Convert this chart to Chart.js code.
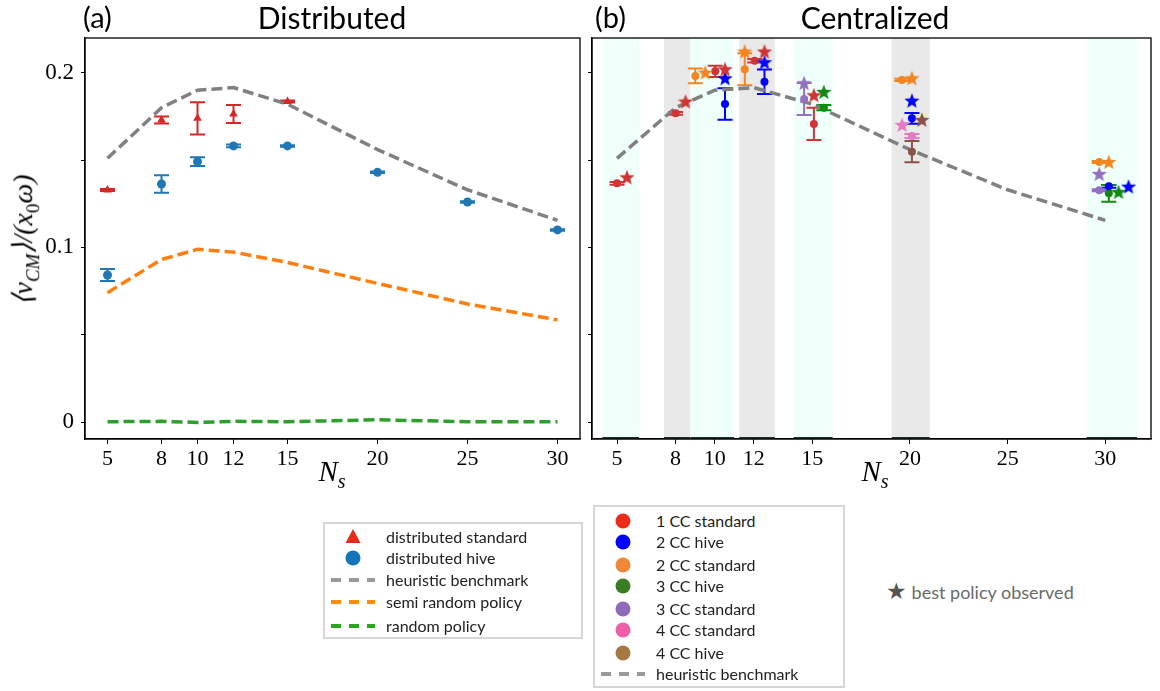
<!DOCTYPE html>
<html>
<head>
<meta charset="utf-8">
<script src="https://cdn.jsdelivr.net/npm/chart.js@4.4.1/dist/chart.umd.min.js"></script>
<style>
  body { margin: 0; background: #fff; width: 1160px; height: 691px; position: relative; overflow: hidden; font-family: Lato, sans-serif; }
  canvas { position: absolute; top: 0; }
  .txt { position: absolute; white-space: nowrap; color: #000; }
  .title { font-size: 30px; transform: translateX(-50%); top: 0; line-height: 34px; }
  .panel { font-size: 29px; top: 0; line-height: 34px; }
  .math { font-family: "Liberation Serif", serif; font-style: italic; }
  .legend { position: absolute; border: 2px solid #d6d6d6; background: #fff; box-sizing: border-box; }
  .row { position: absolute; left: 0; height: 22px; font-size: 16px; color: #222; white-space: nowrap; }
  .row svg { position: absolute; top: 0; }
  .row span { position: absolute; top: 1px; line-height: 20px; }
</style>
</head>
<body>
<canvas id="distChart" width="600" height="500" style="left:0"></canvas>
<canvas id="centChart" width="580" height="500" style="left:580px"></canvas>

<div class="txt panel" style="left:83px">(a)</div>
<div class="txt title" style="left:332px">Distributed</div>
<div class="txt panel" style="left:595px">(b)</div>
<div class="txt title" style="left:875px">Centralized</div>

<div class="txt math" style="left:25px; top:240px; font-size:28px; transform: translate(-50%,-50%) rotate(-90deg);">⟨<i>v</i><sub style="font-size:19px">CM</sub>⟩/(<i>x</i><sub style="font-size:19px; font-style:normal">0</sub><i>ω</i>)</div>
<div class="txt math" style="left:332px; top:474px; font-size:29px; transform: translate(-50%,-50%);">N<sub style="font-size:20px">s</sub></div>
<div class="txt math" style="left:875px; top:474px; font-size:29px; transform: translate(-50%,-50%);">N<sub style="font-size:20px">s</sub></div>

<div id="legendDist" class="legend" style="left:323px; top:522px; width:260px; height:117px;"></div>
<div id="legendCent" class="legend" style="left:593px; top:505px; width:252px; height:183px;"></div>
<div class="txt" style="left:886px; top:577px; font-size:18px; color:#6a6a6a; line-height:26px;"><span style="color:#555; font-size:23px;">★</span> best policy observed</div>

<script>
// x positions (number of swimmers) and tick values
const nValues = [5, 8, 10, 12, 15, 20, 25, 30];
const yTickValues = [0, 0.05, 0.1, 0.15, 0.2];

// (a) distributed
const heuristicBench = [0.151, 0.180, 0.190, 0.1915, 0.182, 0.156, 0.133, 0.1155];
const semiRandom = [0.0741, 0.0931, 0.0989, 0.0973, 0.0914, 0.0794, 0.0676, 0.0585];
const randomPolicy = [0.0002, 0.0004, -0.0002, 0.0004, 0.0002, 0.0013, 0.0002, 0.0002];
const distStdN = [5, 8, 10, 12, 15];
const distStdMean = [0.1329, 0.1730, 0.1739, 0.1764, 0.1835];
const distStdErr = [0.0006, 0.0020, 0.0092, 0.0051, 0.0006];
const distHiveN = [5, 8, 10, 12, 15, 20, 25, 30];
const distHiveMean = [0.0842, 0.1363, 0.1491, 0.1581, 0.1581, 0.1430, 0.1260, 0.1100];
const distHiveErr = [0.0035, 0.0050, 0.0025, 0.0008, 0.0004, 0.0004, 0.0004, 0.0004];

// (b) centralized: mean +- err (dots) and best policy (stars)
const cc1StdX = [5.0, 8.0, 10.03, 12.05, 15.08];
const cc1StdY = [0.1367, 0.1768, 0.2008, 0.2069, 0.1707];
const cc1StdErr = [0.0008, 0.0008, 0.0032, 0.0010, 0.0092];
const cc1StdBestX = [5.51, 8.51, 10.53, 12.55, 15.08];
const cc1StdBestY = [0.1401, 0.1835, 0.2020, 0.2121, 0.1871];

const cc2HiveX = [10.53, 12.55, 20.10, 30.18];
const cc2HiveY = [0.1821, 0.1949, 0.1739, 0.1350];
const cc2HiveErr = [0.0090, 0.0070, 0.0031, 0.0008];
const cc2HiveBestX = [10.53, 12.55, 20.10, 31.19];
const cc2HiveBestY = [0.1968, 0.2060, 0.1840, 0.1348];

const cc2StdX = [9.01, 11.54, 19.58, 29.69];
const cc2StdY = [0.1982, 0.2020, 0.1959, 0.1489];
const cc2StdErr = [0.0042, 0.0091, 0.0006, 0.0006];
const cc2StdBestX = [9.52, 11.54, 20.10, 30.18];
const cc2StdBestY = [0.2001, 0.2121, 0.1968, 0.1489];

const cc3HiveX = [15.59, 30.18];
const cc3HiveY = [0.1800, 0.1310];
const cc3HiveErr = [0.0015, 0.0048];
const cc3HiveBestX = [15.59, 30.68];
const cc3HiveBestY = [0.1890, 0.1317];

const cc3StdX = [14.58, 29.69];
const cc3StdY = [0.1850, 0.1327];
const cc3StdErr = [0.0092, 0.0006];
const cc3StdBestX = [14.58, 29.69];
const cc3StdBestY = [0.1940, 0.1420];

const cc4StdX = [20.10];
const cc4StdY = [0.1638];
const cc4StdErr = [0.0012];
const cc4StdBestX = [19.60];
const cc4StdBestY = [0.1701];

const cc4HiveX = [20.10];
const cc4HiveY = [0.1548];
const cc4HiveErr = [0.0061];
const cc4HiveBestX = [20.61];
const cc4HiveBestY = [0.1730];

// shaded groups in (b)
const bandFrom = [4.25, 7.40, 8.76, 11.26, 14.04, 19.06, 29.04];
const bandTo = [6.13, 8.76, 10.99, 13.08, 16.04, 21.01, 31.63];
const bandKind = ['cyan', 'gray', 'cyan', 'gray', 'cyan', 'gray', 'cyan'];

const pts = (xs, ys) => xs.map((x, i) => ({ x: x, y: ys[i] }));

function starImage(color) {
    const c = document.createElement('canvas');
    c.width = 18; c.height = 18;
    const g = c.getContext('2d');
    g.fillStyle = color;
    g.beginPath();
    for (let k = 0; k < 10; k++) {
        const r = k % 2 === 0 ? 8 : 3.4;
        const a = -Math.PI / 2 + k * Math.PI / 5;
        g.lineTo(9 + r * Math.cos(a), 9.5 + r * Math.sin(a));
    }
    g.closePath();
    g.fill();
    return c;
}

function errorBars(sets) {
    return {
        id: 'errorBars',
        beforeDatasetsDraw(chart) {
            const { ctx, scales: { x, y } } = chart;
            sets.forEach(set => {
                ctx.save();
                ctx.strokeStyle = set.color;
                ctx.lineWidth = 2;
                set.x.forEach((xv, i) => {
                    const px = x.getPixelForValue(xv);
                    const top = y.getPixelForValue(set.y[i] + set.err[i]);
                    const bot = y.getPixelForValue(set.y[i] - set.err[i]);
                    ctx.beginPath();
                    ctx.moveTo(px, top); ctx.lineTo(px, bot);
                    ctx.moveTo(px - 7.5, top); ctx.lineTo(px + 7.5, top);
                    ctx.moveTo(px - 7.5, bot); ctx.lineTo(px + 7.5, bot);
                    ctx.stroke();
                });
                ctx.restore();
            });
        }
    };
}

const frame = {
    id: 'frame',
    afterDraw(chart) {
        const { ctx, chartArea: a } = chart;
        ctx.save();
        ctx.strokeStyle = '#000';
        ctx.lineWidth = 1.3;
        ctx.strokeRect(a.left, a.top, a.right - a.left, a.bottom - a.top);
        ctx.restore();
    }
};

const bands = {
    id: 'bands',
    beforeDatasetsDraw(chart) {
        const { ctx, chartArea: a, scales: { x } } = chart;
        ctx.save();
        bandFrom.forEach((b, i) => {
            const x1 = x.getPixelForValue(b), x2 = x.getPixelForValue(bandTo[i]);
            ctx.fillStyle = bandKind[i] === 'cyan' ? '#effffa' : '#e9e9e9';
            ctx.fillRect(x1, a.top, x2 - x1, a.bottom - a.top);
            ctx.fillStyle = '#1d3328';
            ctx.fillRect(x1, a.bottom - 2, x2 - x1, 2);
        });
        ctx.restore();
    }
};

function xAxis(min, max, height) {
    return {
        type: 'linear', min: min, max: max,
        afterBuildTicks: s => { s.ticks = nValues.map(v => ({ value: v })); },
        afterFit: s => { s.height = height; },
        ticks: { font: { family: 'Liberation Serif', size: 22 }, color: '#000', padding: 2, autoSkip: false, maxRotation: 0 },
        grid: { display: true, drawOnChartArea: false, drawTicks: true, tickLength: 5, color: '#000', lineWidth: 1 },
        border: { display: true, color: '#000', width: 1.3 }
    };
}

function yAxis(width, labels) {
    return {
        type: 'linear', min: -0.0097, max: 0.2199,
        afterBuildTicks: s => { s.ticks = yTickValues.map(v => ({ value: v })); },
        afterFit: s => { s.width = width; },
        ticks: {
            font: { family: 'Liberation Serif', size: 23 }, color: '#000', padding: 7,
            callback: v => {
                if (!labels) return '';
                if (Math.abs(v) < 1e-9) return '0';
                if (Math.abs(v - 0.1) < 1e-9) return '0.1';
                if (Math.abs(v - 0.2) < 1e-9) return '0.2';
                return '';
            }
        },
        grid: { display: true, drawOnChartArea: false, drawTicks: true, tickLength: 4, color: '#000', lineWidth: 1 },
        border: { display: true, color: '#000', width: 1.3 }
    };
}

const dashed = (label, ys, color) => ({
    label: label, data: pts(nValues, ys), showLine: true, borderColor: color,
    borderWidth: 3.5, borderDash: [11, 5], pointRadius: 0, fill: false
});

const red = '#d62728', tabBlue = '#1f77b4';

new Chart(document.getElementById('distChart'), {
    type: 'scatter',
    data: {
        datasets: [
            { label: 'distributed standard', data: pts(distStdN, distStdMean), pointStyle: 'triangle', pointRadius: 5, backgroundColor: red, borderWidth: 0 },
            { label: 'distributed hive', data: pts(distHiveN, distHiveMean), pointStyle: 'circle', pointRadius: 4.5, backgroundColor: tabBlue, borderWidth: 0 },
            dashed('heuristic benchmark', heuristicBench, '#808080'),
            dashed('semi random policy', semiRandom, '#ff7f0e'),
            dashed('random policy', randomPolicy, '#2ca02c')
        ]
    },
    options: {
        responsive: false, animation: false,
        layout: { padding: { left: 0, right: 20, top: 38, bottom: 0 } },
        plugins: { legend: { display: false }, tooltip: { enabled: false } },
        scales: { x: xAxis(3.75, 31.25, 61), y: yAxis(85, true) }
    },
    plugins: [errorBars([
        { x: distStdN, y: distStdMean, err: distStdErr, color: red },
        { x: distHiveN, y: distHiveMean, err: distHiveErr, color: tabBlue }
    ]), frame]
});

const ccColors = {
    cc1Std: '#d03535', cc2Hive: '#0000ff', cc2Std: '#f28522', cc3Hive: '#118a11',
    cc3Std: '#9470c2', cc4Std: '#e27bc4', cc4Hive: '#8b5246'
};
const ccSeries = [
    ['1 CC standard', cc1StdX, cc1StdY, cc1StdErr, cc1StdBestX, cc1StdBestY, ccColors.cc1Std],
    ['2 CC hive', cc2HiveX, cc2HiveY, cc2HiveErr, cc2HiveBestX, cc2HiveBestY, ccColors.cc2Hive],
    ['2 CC standard', cc2StdX, cc2StdY, cc2StdErr, cc2StdBestX, cc2StdBestY, ccColors.cc2Std],
    ['3 CC hive', cc3HiveX, cc3HiveY, cc3HiveErr, cc3HiveBestX, cc3HiveBestY, ccColors.cc3Hive],
    ['3 CC standard', cc3StdX, cc3StdY, cc3StdErr, cc3StdBestX, cc3StdBestY, ccColors.cc3Std],
    ['4 CC standard', cc4StdX, cc4StdY, cc4StdErr, cc4StdBestX, cc4StdBestY, ccColors.cc4Std],
    ['4 CC hive', cc4HiveX, cc4HiveY, cc4HiveErr, cc4HiveBestX, cc4HiveBestY, ccColors.cc4Hive]
];

const centSets = [];
ccSeries.forEach(s => {
    centSets.push({ label: s[0] + ' best', data: pts(s[4], s[5]), pointStyle: starImage(s[6]), pointRadius: 8 });
});
ccSeries.forEach(s => {
    centSets.push({ label: s[0], data: pts(s[1], s[2]), pointStyle: 'circle', pointRadius: 4, backgroundColor: s[6], borderWidth: 0 });
});
centSets.push(dashed('heuristic benchmark', heuristicBench, '#808080'));

new Chart(document.getElementById('centChart'), {
    type: 'scatter',
    data: { datasets: centSets },
    options: {
        responsive: false, animation: false,
        layout: { padding: { left: 0, right: 2, top: 38, bottom: 0 } },
        plugins: { legend: { display: false }, tooltip: { enabled: false } },
        scales: { x: xAxis(3.72, 32.34, 61), y: yAxis(12, false) }
    },
    plugins: [bands, errorBars(ccSeries.map(s => ({ x: s[1], y: s[2], err: s[3], color: s[6] }))), frame]
});

// legends (HTML)
function addRow(box, top, left, marker, text, textLeft) {
    const row = document.createElement('div');
    row.className = 'row';
    row.style.top = top + 'px';
    row.style.width = '100%';
    row.innerHTML = '<svg width="60" height="22" style="left:' + left + 'px">' + marker + '</svg><span style="left:' + textLeft + 'px">' + text + '</span>';
    box.appendChild(row);
}
const dashMarker = c => '<line x1="4" y1="11" x2="48" y2="11" stroke="' + c + '" stroke-width="4" stroke-dasharray="10 8"/>';
const dotMarker = c => '<circle cx="26" cy="11" r="7.5" fill="' + c + '"/>';

const legDist = document.getElementById('legendDist');
addRow(legDist, 2, 2, '<polygon points="26,3 33.5,17 18.5,17" fill="#ee2a1a"/>', 'distributed standard', 61);
addRow(legDist, 23, 2, dotMarker('#1474b8'), 'distributed hive', 61);
addRow(legDist, 45, 2, dashMarker('#999'), 'heuristic benchmark', 61);
addRow(legDist, 67, 2, dashMarker('#ff8c0e'), 'semi random policy', 61);
addRow(legDist, 91, 2, dashMarker('#26a81a'), 'random policy', 61);

const legCent = document.getElementById('legendCent');
const legCentColors = ['#ee2a1a', '#0000ff', '#f08838', '#3b7d23', '#8e6bb8', '#ee5fa8', '#a67843'];
ccSeries.forEach((s, i) => {
    addRow(legCent, 3 + [0, 21, 44, 65, 88, 109, 132][i], 2, dotMarker(legCentColors[i]), s[0], 61);
});
addRow(legCent, 156, 2, dashMarker('#999'), 'heuristic benchmark', 61);
</script>
</body>
</html>
